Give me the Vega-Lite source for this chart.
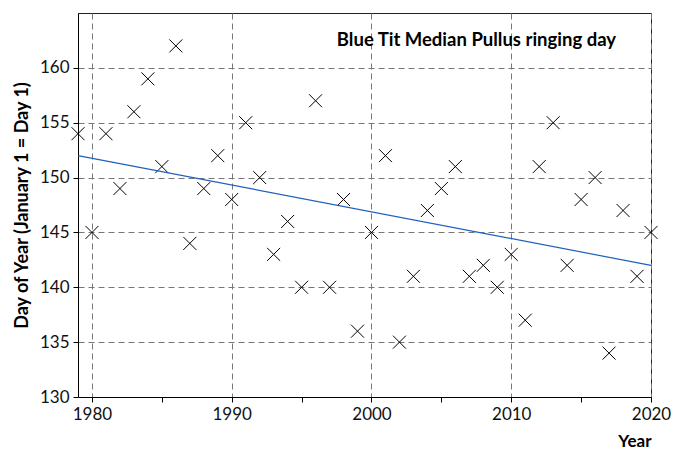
{
  "$schema": "https://vega.github.io/schema/vega-lite/v6.json",
  "autosize": "none",
  "width": 573,
  "height": 384,
  "padding": {"left": 78, "top": 13, "right": 27, "bottom": 55},
  "background": "white",
  "config": {
    "font": "Lato",
    "view": {"stroke": "#222", "strokeWidth": 1},
    "axis": {
      "domainColor": "#000",
      "tickColor": "#000",
      "labelColor": "#111",
      "titleColor": "#000",
      "labelFont": "Lato",
      "titleFont": "Lato",
      "labelFontSize": 17,
      "titleFontSize": 17,
      "titleFontWeight": "bold",
      "gridColor": "#777",
      "gridDash": [6, 4],
      "gridWidth": 1,
      "tickSize": 5
    }
  },
  "datasets": {
    "pts": [
      {"year": 1979, "day": 154}, {"year": 1980, "day": 145}, {"year": 1981, "day": 154},
      {"year": 1982, "day": 149}, {"year": 1983, "day": 156}, {"year": 1984, "day": 159},
      {"year": 1985, "day": 151}, {"year": 1986, "day": 162}, {"year": 1987, "day": 144},
      {"year": 1988, "day": 149}, {"year": 1989, "day": 152}, {"year": 1990, "day": 148},
      {"year": 1991, "day": 155}, {"year": 1992, "day": 150}, {"year": 1993, "day": 143},
      {"year": 1994, "day": 146}, {"year": 1995, "day": 140}, {"year": 1996, "day": 157},
      {"year": 1997, "day": 140}, {"year": 1998, "day": 148}, {"year": 1999, "day": 136},
      {"year": 2000, "day": 145}, {"year": 2001, "day": 152}, {"year": 2002, "day": 135},
      {"year": 2003, "day": 141}, {"year": 2004, "day": 147}, {"year": 2005, "day": 149},
      {"year": 2006, "day": 151}, {"year": 2007, "day": 141}, {"year": 2008, "day": 142},
      {"year": 2009, "day": 140}, {"year": 2010, "day": 143}, {"year": 2011, "day": 137},
      {"year": 2012, "day": 151}, {"year": 2013, "day": 155}, {"year": 2014, "day": 142},
      {"year": 2015, "day": 148}, {"year": 2016, "day": 150}, {"year": 2017, "day": 134},
      {"year": 2018, "day": 147}, {"year": 2019, "day": 141}, {"year": 2020, "day": 145}
    ],
    "trend": [
      {"year": 1979, "day": 152.0},
      {"year": 2020, "day": 142.0}
    ],
    "label": [
      {"year": 2017.5, "day": 162.5, "text": "Blue Tit Median Pullus ringing day"}
    ]
  },
  "layer": [
    {
      "data": {"name": "pts"},
      "mark": {
        "type": "point",
        "shape": "M-1,-1L1,1M1,-1L-1,1",
        "filled": false,
        "stroke": "#000",
        "strokeWidth": 1,
        "size": 169,
        "opacity": 1
      },
      "encoding": {
        "x": {
          "field": "year",
          "type": "quantitative",
          "scale": {"domain": [1979, 2020], "nice": false, "zero": false},
          "axis": {
            "title": "Year",
            "titleAnchor": "end",
            "titleAlign": "right",
            "titlePadding": 11,
            "values": [1980, 1985, 1990, 1995, 2000, 2005, 2010, 2015, 2020],
            "labelExpr": "datum.value % 10 === 0 ? datum.value + '' : ''",
            "labelPadding": 4,
            "grid": true,
            "gridOpacity": {"condition": {"test": "datum.value % 10 === 0", "value": 1}, "value": 0},
            "labelFlush": false,
            "labelOverlap": false
          }
        },
        "y": {
          "field": "day",
          "type": "quantitative",
          "scale": {"domain": [130, 165], "nice": false, "zero": false},
          "axis": {
            "title": "Day of Year (January 1 = Day 1)",
            "titleFontSize": 18,
            "titlePadding": 8,
            "values": [130, 132.5, 135, 137.5, 140, 142.5, 145, 147.5, 150, 152.5, 155, 157.5, 160, 162.5],
            "labelExpr": "datum.value % 5 === 0 ? datum.value + '' : ''",
            "labelPadding": 4,
            "grid": true,
            "gridOpacity": {"condition": {"test": "datum.value % 5 === 0 && datum.value > 130", "value": 1}, "value": 0},
            "labelOverlap": false,
            "labelFlush": false
          }
        }
      }
    },
    {
      "data": {"name": "trend"},
      "mark": {"type": "line", "color": "#1f5fbf", "strokeWidth": 1.2},
      "encoding": {
        "x": {"field": "year", "type": "quantitative"},
        "y": {"field": "day", "type": "quantitative"}
      }
    },
    {
      "data": {"name": "label"},
      "mark": {"type": "text", "align": "right", "baseline": "middle", "font": "Lato", "fontSize": 18.5, "fontWeight": "bold", "color": "#000"},
      "encoding": {
        "x": {"field": "year", "type": "quantitative"},
        "y": {"field": "day", "type": "quantitative"},
        "text": {"field": "text"}
      }
    }
  ]
}
